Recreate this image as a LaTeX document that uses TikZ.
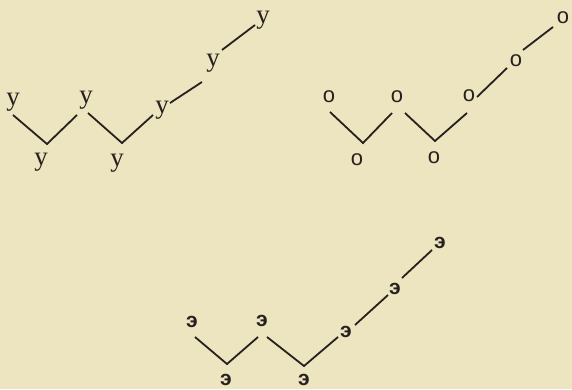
\documentclass[tikz,border=0pt]{standalone}
\usepackage{fontspec}
\setmainfont{Liberation Serif}
\newfontfamily\sansfont{Liberation Sans}

\definecolor{paper}{RGB}{237,229,192}
\definecolor{ink}{RGB}{38,33,30}

\tikzset{
  bond/.style={ink, line width=1.8pt},
  yatom/.style={ink, inner sep=0pt, font=\fontsize{27}{27}\selectfont},
  oatom/.style={ink, inner sep=0pt, font=\sansfont\fontsize{22}{22}\selectfont},
  eatom/.style={ink, inner sep=0pt, font=\sansfont\bfseries\fontsize{21}{21}\selectfont},
}

\begin{document}
\begin{tikzpicture}[x=1pt,y=1pt]
 \fill[paper] (0,0) rectangle (572,389);
 \useasboundingbox (0,0) rectangle (572,389);

 % chain of y
 \node[yatom] (u1) at (13,287) {у};
 \node[yatom] (u2) at (41,227) {у};
 \node[yatom] (u3) at (86,289) {у};
 \node[yatom] (u4) at (117,226) {у};
 \node[yatom] (u5) at (162,279) {у};
 \node[yatom] (u6) at (213,326) {у};
 \node[yatom] (u7) at (263,369) {у};
 \coordinate (ua) at (47,245);
 \coordinate (ub) at (122,246);

 \draw[bond] ([shift={(0,-13)}]u1.center) -- (ua) -- ([shift={(-9,-15)}]u3.center);
 \draw[bond] ([shift={(2,-13)}]u3.center) -- (ub) -- ([shift={(-9,-5)}]u5.center);
 \draw[bond] ([shift={(8,7)}]u5.center) -- ([shift={(-11,-19)}]u6.center);
 \draw[bond] ([shift={(9,13)}]u6.center) -- ([shift={(-8,-5)}]u7.center);

 % chain of o
 \node[oatom] (o1) at (329,292) {о};
 \node[oatom] (o2) at (357,229) {о};
 \node[oatom] (o3) at (397,292) {о};
 \node[oatom] (o4) at (434,231) {о};
 \node[oatom] (o5) at (469,293) {о};
 \node[oatom] (o6) at (516,328) {о};
 \node[oatom] (o7) at (563,371) {о};
 \coordinate (oa) at (363,246);
 \coordinate (ob) at (435,248);

 \draw[bond] ([shift={(1,-15)}]o1.center) -- (oa) -- ([shift={(-5,-16)}]o3.center);
 \draw[bond] ([shift={(8,-16)}]o3.center) -- (ob) -- ([shift={(-2,-17)}]o5.center);
 \draw[bond] ([shift={(8,-1)}]o5.center) -- ([shift={(-9,-7)}]o6.center);
 \draw[bond] ([shift={(7,11)}]o6.center) -- ([shift={(-10,-9)}]o7.center);

 % chain of e
 \node[eatom] (e1) at (192,67) {э};
 \node[eatom] (e2) at (226,9) {э};
 \node[eatom] (e3) at (262,68) {э};
 \node[eatom] (e4) at (304,9) {э};
 \node[eatom] (e5) at (346,57) {э};
 \node[eatom] (e6) at (395,100) {э};
 \node[eatom] (e7) at (440,146) {э};
 \coordinate (ea) at (227,25);
 \coordinate (eb) at (304,23);

 \draw[bond] ([shift={(3,-15)}]e1.center) -- (ea) -- ([shift={(-4,-16)}]e3.center);
 \draw[bond] ([shift={(5,-16)}]e3.center) -- (eb) -- ([shift={(-8,-5)}]e5.center);
 \draw[bond] ([shift={(9,7)}]e5.center) -- ([shift={(-7,-6)}]e6.center);
 \draw[bond] ([shift={(7,11)}]e6.center) -- ([shift={(-8,-7)}]e7.center);
\end{tikzpicture}
\end{document}
